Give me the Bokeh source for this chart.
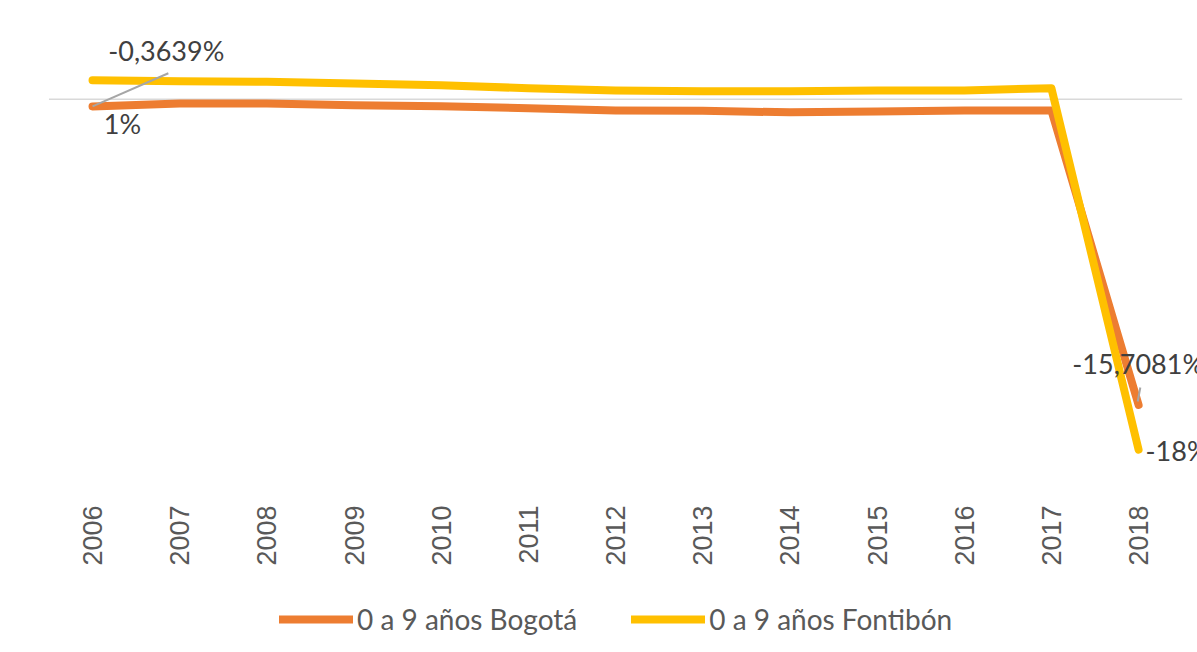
from math import pi
from bokeh.plotting import figure
from bokeh.layouts import column
from bokeh.models import Range1d, FixedTicker, Label, Legend, LegendItem
from bokeh.embed import file_html
from bokeh.resources import INLINE

years = [2006, 2007, 2008, 2009, 2010, 2011, 2012, 2013, 2014, 2015, 2016, 2017, 2018]
bogota = [-0.3639, -0.21, -0.21, -0.30, -0.36, -0.46, -0.57, -0.59, -0.67, -0.62, -0.57, -0.57, -15.7081]
fontibon = [0.98, 0.93, 0.90, 0.82, 0.72, 0.57, 0.46, 0.41, 0.41, 0.46, 0.46, 0.57, -18.0]
series_names = ["0 a 9 años Bogotá", "0 a 9 años Fontibón"]
label_texts = ["-0,3639%", "1%", "-15,7081%", "-18%"]

ORANGE = "#ED7D31"
YELLOW = "#FFC000"
TXT = "#404040"

p = figure(frame_width=1149, frame_height=467, output_backend="svg", toolbar_location=None,
           x_range=Range1d(2005.495, 2018.676), y_range=Range1d(-20.0, 4.0),
           y_axis_location=None, min_border_left=48, min_border_right=0,
           min_border_top=21, min_border_bottom=0)
p.outline_line_color = None
p.xgrid.visible = False
p.ygrid.visible = False
p.background_fill_color = "white"
p.border_fill_color = "white"

# zero line across the category span
p.segment(x0=[years[0] - 0.5], y0=[0], x1=[years[-1] + 0.5], y1=[0],
          line_color="#D9D9D9", line_width=1.5)

r1 = p.line(years, bogota, line_color=ORANGE, line_width=8, line_cap="round", line_join="round")
r2 = p.line(years, fontibon, line_color=YELLOW, line_width=8, line_cap="round", line_join="round")

# leader lines
p.segment(x0=[years[0]], y0=[bogota[0]], x1=[years[0] + 0.87], y1=[1.34],
          line_color="#A6A6A6", line_width=2)
p.segment(x0=[years[-1] + 0.02], y0=[bogota[-1] + 0.9], x1=[years[-1] - 0.01], y1=[bogota[-1] + 0.18],
          line_color="#A6A6A6", line_width=2)

lab_pos = [(years[0] + 0.18, 2.52), (years[0] + 0.13, -1.23),
           (years[-1] - 0.76, -13.58), (years[-1] + 0.08, fontibon[-1] - 0.06)]
for (lx, ly), t in zip(lab_pos, label_texts):
    p.add_layout(Label(x=lx, y=ly, text=t, text_font="Lato", text_font_size="27px",
                       text_color=TXT, text_baseline="middle", text_align="left"))

ax = p.xaxis[0]
ax.ticker = FixedTicker(ticks=years)
ax.axis_line_color = None
ax.major_tick_line_color = None
ax.minor_tick_line_color = None
ax.major_tick_out = 0
ax.major_tick_in = 0
ax.minor_tick_out = 0
ax.minor_tick_in = 0
ax.major_label_orientation = pi / 2
ax.major_label_standoff = 17
ax.major_label_text_font = "Liberation Sans"
ax.major_label_text_font_size = "27px"
ax.major_label_text_color = "#595959"

# legend strip below the chart (series drawn out of view, only the legend shows)
q = figure(width=1197, height=85, output_backend="svg", toolbar_location=None,
           x_range=Range1d(2005.495, 2018.676), y_range=Range1d(100, 101),
           x_axis_location=None, y_axis_location=None,
           min_border_left=0, min_border_right=0, min_border_top=0, min_border_bottom=0)
q.outline_line_color = None
q.xgrid.visible = False
q.ygrid.visible = False
q.border_fill_color = "white"
l1 = q.line(years, bogota, line_color=ORANGE, line_width=8, line_cap="round")
l2 = q.line(years, fontibon, line_color=YELLOW, line_width=8, line_cap="round")

legend = Legend(items=[LegendItem(label=series_names[0], renderers=[l1]),
                       LegendItem(label=series_names[1], renderers=[l2])],
                orientation="horizontal", location=(231, 17),
                padding=0, margin=0, spacing=54, label_standoff=4,
                glyph_width=74, glyph_height=30,
                label_text_font="Lato", label_text_font_size="28px",
                label_text_color="#595959", border_line_color=None,
                background_fill_alpha=0)
q.add_layout(legend, "center")

layout = column(p, q, spacing=0)
open("out.html", "w").write(file_html(layout, INLINE))
